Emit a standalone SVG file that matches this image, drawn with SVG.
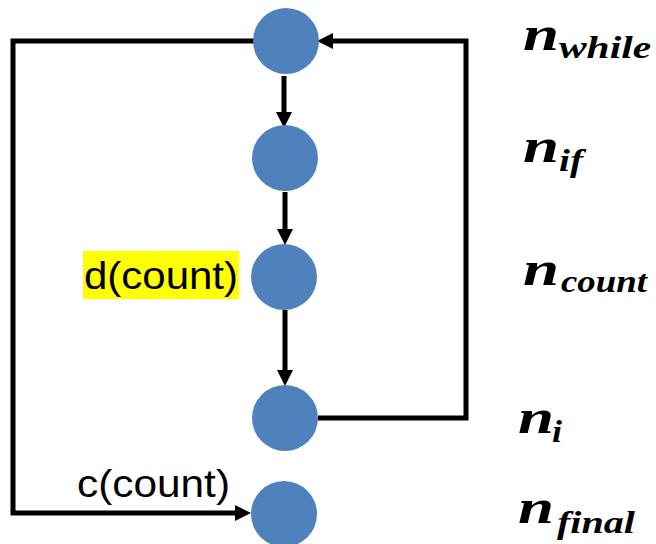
<svg xmlns="http://www.w3.org/2000/svg" width="656" height="544" viewBox="0 0 656 544">
<style>
.node{fill:#4F81BD}
.conn{fill:none;stroke:#000;stroke-width:5;stroke-linejoin:miter}
.lbl{font-family:"Liberation Sans",Arial,sans-serif;font-size:38px;fill:#000}
.m{font-family:"Liberation Serif","DejaVu Serif",serif;font-style:italic;font-weight:bold;fill:#000}
.mn{font-size:48px}
.ms{font-size:32px}
</style>
<defs>
<marker id="ah" markerUnits="userSpaceOnUse" markerWidth="16" markerHeight="16" refX="4" refY="8" orient="auto">
<path d="M0,0 L16,8 L0,16 z" fill="#000"/>
</marker>
</defs>
<g id="connectors">
<path class="conn" d="M284,76 L284,116" marker-end="url(#ah)"/>
<path class="conn" d="M285,192 L285,233" marker-end="url(#ah)"/>
<path class="conn" d="M285,310 L285,374" marker-end="url(#ah)"/>
<path class="conn" d="M318,418 H466 V41 H329" marker-end="url(#ah)"/>
<path class="conn" d="M254,41 H13 V513 H239" marker-end="url(#ah)"/>
</g>
<g id="n_while"><circle class="node" cx="286" cy="41" r="33"/></g>
<g id="n_if"><circle class="node" cx="285" cy="158" r="33"/></g>
<g id="n_count"><circle class="node" cx="284" cy="277" r="33"/>
<rect x="83" y="251" width="156" height="48" fill="#FFFF00"/>
<text class="lbl" x="84" y="289" textLength="154" lengthAdjust="spacingAndGlyphs">d(count)</text></g>
<g id="n_i"><circle class="node" cx="285" cy="418" r="33"/></g>
<g id="n_final"><circle class="node" cx="284" cy="514" r="33"/>
<text class="lbl" x="77" y="497" textLength="153" lengthAdjust="spacingAndGlyphs">c(count)</text></g>
<g id="labels">
<text class="m mn" x="523" y="50" textLength="36" lengthAdjust="spacingAndGlyphs">n</text>
<text class="m ms" x="559" y="58" textLength="92" lengthAdjust="spacingAndGlyphs">while</text>
<text class="m mn" x="523" y="162" textLength="36" lengthAdjust="spacingAndGlyphs">n</text>
<text class="m ms" x="559" y="171" textLength="24" lengthAdjust="spacingAndGlyphs">if</text>
<text class="m mn" x="523" y="285" textLength="36" lengthAdjust="spacingAndGlyphs">n</text>
<text class="m ms" x="561" y="292" textLength="86" lengthAdjust="spacingAndGlyphs">count</text>
<text class="m mn" x="518" y="433" textLength="36" lengthAdjust="spacingAndGlyphs">n</text>
<text class="m ms" x="552" y="442" textLength="10" lengthAdjust="spacingAndGlyphs">i</text>
<text class="m mn" x="518" y="523" textLength="36" lengthAdjust="spacingAndGlyphs">n</text>
<text class="m ms" x="557" y="533" textLength="78" lengthAdjust="spacingAndGlyphs">final</text>
</g>
</svg>
